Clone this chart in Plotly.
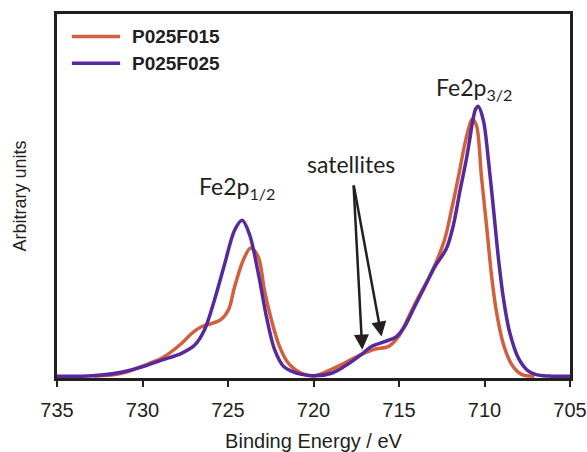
import plotly.graph_objects as go

# Binding energy (eV) and intensity (arbitrary units)
be_f015 = [732.81, 731.81, 730.94, 730.06, 728.89, 727.72, 727.31, 726.96, 726.55, 726.02,
           725.44, 724.97, 724.62, 724.11, 723.68, 723.22, 722.87, 722.46, 721.99, 721.46,
           720.70, 719.94, 718.95, 718.19, 717.19, 716.43, 715.61, 715.03, 714.44, 713.86,
           713.10, 712.34, 711.93, 711.52, 711.17, 710.94, 710.72, 710.47, 710.18, 709.88,
           709.59, 709.30, 708.89, 708.42, 707.84, 707.08]
int_f015 = [0.0, 0.003, 0.011, 0.027, 0.049, 0.090, 0.109, 0.124, 0.136, 0.144,
            0.155, 0.183, 0.245, 0.319, 0.353, 0.327, 0.237, 0.155, 0.082, 0.035,
            0.008, 0.001, 0.019, 0.036, 0.060, 0.074, 0.082, 0.109, 0.163, 0.218,
            0.285, 0.375, 0.458, 0.550, 0.635, 0.680, 0.708, 0.690, 0.550, 0.414,
            0.278, 0.177, 0.087, 0.033, 0.005, 0.0]

be_f025 = [735.00, 733.57, 732.40, 731.23, 730.06, 728.89, 727.72, 726.96, 726.37, 725.79,
           725.20, 724.62, 724.17, 723.74, 723.22, 722.75, 722.28, 721.75, 721.29, 720.70,
           719.94, 718.95, 718.19, 717.19, 716.61, 715.85, 715.15, 714.68, 714.09, 713.51,
           712.92, 712.22, 711.81, 711.46, 711.05, 710.82, 710.70, 710.52, 710.37, 710.06,
           709.77, 709.47, 709.18, 708.89, 708.54, 708.01, 707.43, 706.84, 706.08, 705.00]
int_f025 = [0.0, 0.0, 0.003, 0.011, 0.025, 0.044, 0.063, 0.085, 0.128, 0.210,
            0.308, 0.401, 0.429, 0.390, 0.281, 0.163, 0.074, 0.027, 0.014, 0.005,
            0.001, 0.008, 0.027, 0.060, 0.082, 0.095, 0.109, 0.136, 0.191, 0.245,
            0.300, 0.352, 0.418, 0.504, 0.600, 0.665, 0.700, 0.735, 0.743, 0.703,
            0.594, 0.458, 0.322, 0.213, 0.123, 0.049, 0.014, 0.003, 0.0, 0.0]

series_names = ["P025F015", "P025F025"]
series_colors = ["#d2603f", "#56299c"]
tick_vals = [735, 730, 725, 720, 715, 710, 705]

axis_color = "#231f20"

fig = go.Figure()
fig.add_trace(go.Scatter(x=be_f015, y=int_f015, mode="lines", name=series_names[0],
                         line=dict(color=series_colors[0], width=3.5, shape="spline", smoothing=0.9)))
fig.add_trace(go.Scatter(x=be_f025, y=int_f025, mode="lines", name=series_names[1],
                         line=dict(color=series_colors[1], width=3.5, shape="spline", smoothing=0.9)))

# legend drawn as line samples + bold labels
legend_rows_y = [0.938, 0.865]
for name, color, yy in zip(series_names, series_colors, legend_rows_y):
    fig.add_shape(type="line", xref="paper", yref="paper", x0=0.029, x1=0.123, y0=yy, y1=yy,
                  line=dict(color=color, width=3.5))
    fig.add_annotation(xref="paper", yref="paper", x=0.142, y=yy, xanchor="left", yanchor="middle",
                       text="<b>" + name + "</b>", showarrow=False,
                       font=dict(family="Liberation Sans, Arial", size=19, color=axis_color))

label_font = dict(family="Lato", size=23, color=axis_color)
fig.add_annotation(x=724.5, y=0.52, xref="x", yref="y", text="Fe2p<sub>1/2</sub>",
                   showarrow=False, font=label_font)
fig.add_annotation(x=710.6, y=0.792, xref="x", yref="y", text="Fe2p<sub>3/2</sub>",
                   showarrow=False, font=label_font)
fig.add_annotation(x=717.8, y=0.585, xref="x", yref="y", text="satellites",
                   showarrow=False, font=label_font)
for tip_x, tip_y in [(717.15, 0.073), (716.02, 0.109)]:
    fig.add_annotation(x=tip_x, y=tip_y, ax=717.66, ay=0.529, xref="x", yref="y",
                       axref="x", ayref="y", text="", showarrow=True, arrowhead=2,
                       arrowsize=1.2, arrowwidth=2.5, arrowcolor=axis_color)

fig.update_layout(
    width=587, height=452,
    margin=dict(l=57, r=17, t=14, b=74),
    paper_bgcolor="white", plot_bgcolor="white",
    font=dict(family="Liberation Sans, Arial", color=axis_color),
    showlegend=False,
)
fig.update_xaxes(range=[735, 705], tickvals=tick_vals, ticks="outside", ticklen=6, tickwidth=2,
                 tickcolor=axis_color, showline=True, linewidth=3, linecolor=axis_color,
                 mirror=True, showgrid=False, zeroline=False, automargin=False,
                 tickfont=dict(size=20, color=axis_color), ticklabelstandoff=6,
                 title=dict(text="Binding Energy / eV", font=dict(size=20, color=axis_color), standoff=34))
fig.update_yaxes(range=[-0.005, 0.997], showticklabels=False, ticks="", showline=True, linewidth=3,
                 linecolor=axis_color, mirror=True, showgrid=False, zeroline=False, automargin=False,
                 title=dict(text="Arbitrary units", font=dict(size=18, color=axis_color), standoff=23))

fig.write_html("out.html")
